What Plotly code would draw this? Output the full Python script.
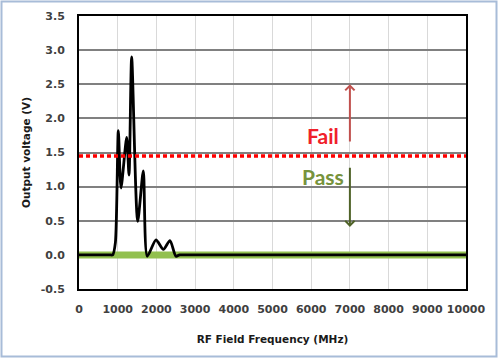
import plotly.graph_objects as go

# Data
freq_mhz = [0, 300, 600, 800, 870, 940, 1016, 1085, 1232, 1292, 1361, 1516, 1662, 1765,
            1990, 2180, 2350, 2505, 2600, 2800, 3500, 5000, 7000, 10000]
volt = [0.0, 0.0, 0.0, 0.0, 0.0, 0.18, 1.82, 0.98, 1.72, 1.17, 2.90, 0.49, 1.23, -0.02,
        0.22, 0.08, 0.21, -0.02, 0.0, 0.0, 0.0, 0.0, 0.0, 0.0]

pass_band_x = [0, 10000]
pass_band_y = [0.0, 0.0]

threshold_x = [0, 10000]
threshold_y = [1.45, 1.45]

x_ticks = list(range(0, 10001, 1000))
y_ticks = [-0.5, 0.0, 0.5, 1.0, 1.5, 2.0, 2.5, 3.0, 3.5]

arrow_x = 7000
fail_arrow = (1.64, 2.5)   # tail, head
pass_arrow = (1.30, 0.41)  # tail, head
fail_label = (6300, 1.75)
pass_label = (6300, 1.15)

fig = go.Figure()
fig.add_trace(go.Scatter(x=pass_band_x, y=pass_band_y, mode="lines",
                         line=dict(color="#92c04f", width=7), hoverinfo="skip"))
fig.add_trace(go.Scatter(x=freq_mhz, y=volt, mode="lines",
                         line=dict(color="black", width=2.8, shape="spline", smoothing=0.7)))
fig.add_trace(go.Scatter(x=threshold_x, y=threshold_y, mode="lines",
                         line=dict(color="#ff0000", width=3.5, dash="4px,3px")))

# Outer frame
L, R, T, B = 79, 466, 16, 289
W, H = R - L, B - T
def px(x): return (x - L) / W
def py(y): return (B - y) / H
fig.add_shape(type="rect", xref="paper", yref="paper",
              x0=px(1.5), x1=px(496.5), y0=py(356.5), y1=py(1.5),
              line=dict(color="#a8bcd8", width=2), layer="below")

fig.add_annotation(x=arrow_x, y=fail_arrow[1], ax=arrow_x, ay=fail_arrow[0],
                   xref="x", yref="y", axref="x", ayref="y", text="",
                   showarrow=True, arrowhead=4, arrowsize=0.9, arrowwidth=2,
                   arrowcolor="#c0504d")
fig.add_annotation(x=arrow_x, y=pass_arrow[1], ax=arrow_x, ay=pass_arrow[0],
                   xref="x", yref="y", axref="x", ayref="y", text="",
                   showarrow=True, arrowhead=4, arrowsize=0.9, arrowwidth=2,
                   arrowcolor="#4f6228")
fig.add_annotation(x=fail_label[0], y=fail_label[1], text="Fail", showarrow=False,
                   font=dict(family="Lato", size=21, color="#f0202a", weight="bold"))
fig.add_annotation(x=pass_label[0], y=pass_label[1], text="Pass", showarrow=False,
                   font=dict(family="Lato", size=21, color="#77933c", weight="bold"))

tickfont = dict(family="DejaVu Sans", size=11, color="#404040", weight="bold")
titlefont = dict(family="DejaVu Sans", size=10.5, color="#1a1a1a", weight="bold")

fig.update_xaxes(range=[0, 10000], tickvals=x_ticks, ticktext=[str(v) for v in x_ticks],
                 showgrid=True, gridcolor="#d9d9d9", gridwidth=1.2,
                 showline=True, linecolor="black", linewidth=2, mirror=True,
                 zeroline=False, tickfont=tickfont, ticklabelstandoff=9, automargin=False,
                 title=dict(text="RF Field Frequency (MHz)", font=titlefont, standoff=20))
fig.update_yaxes(range=[-0.5, 3.5], tickvals=y_ticks, ticktext=[f"{v:.1f}" for v in y_ticks],
                 showgrid=True, gridcolor="#808080", gridwidth=2,
                 showline=True, linecolor="black", linewidth=2, mirror=True,
                 zeroline=False, tickfont=tickfont, ticklabelstandoff=10, automargin=False,
                 title=dict(text="Output voltage (V)", font=titlefont, standoff=8))

fig.update_layout(width=500, height=359, showlegend=False,
                  margin=dict(l=L, r=500 - R, t=T, b=359 - B, autoexpand=False),
                  paper_bgcolor="white", plot_bgcolor="white")
fig.write_html("out.html", config={"displayModeBar": False},
               post_script="document.body.style.margin='0';document.body.style.overflow='hidden';")
